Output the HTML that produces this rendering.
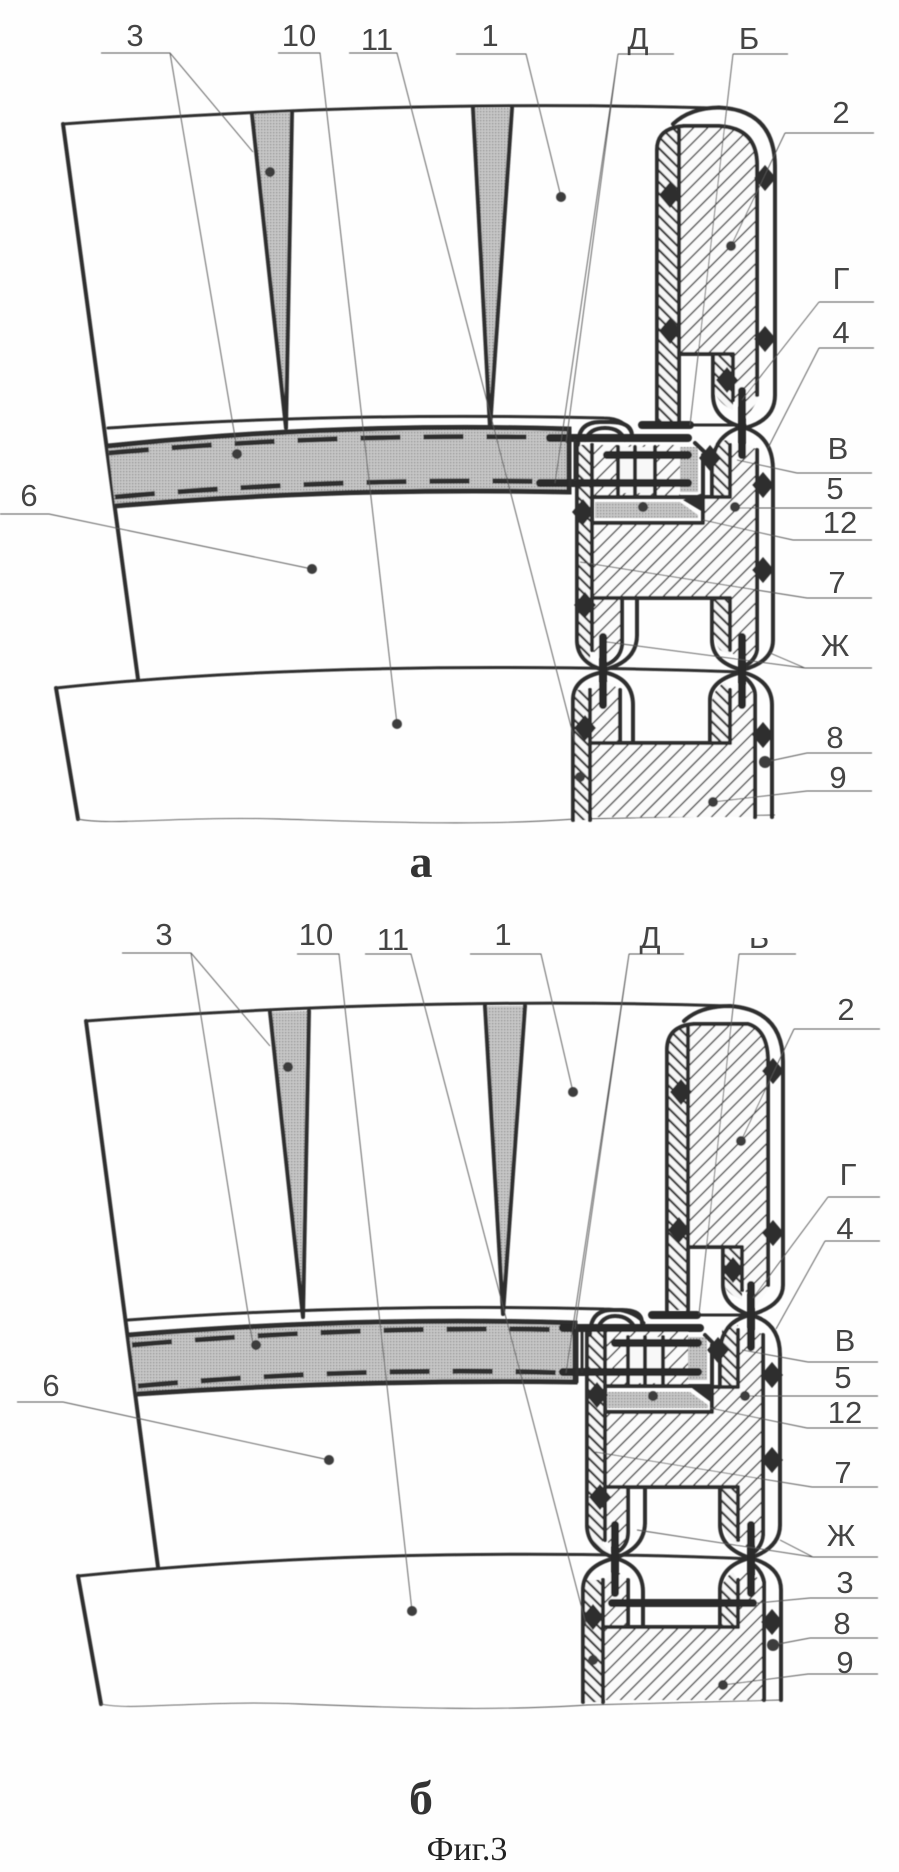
<!DOCTYPE html>
<html><head><meta charset="utf-8"><style>
html,body{margin:0;padding:0;background:#fefefe}
svg{display:block}
text{font-family:"Liberation Sans",sans-serif;font-size:31px;fill:#444;text-anchor:middle}
.ser{font-family:"Liberation Serif",serif}
.l{fill:none;stroke:#555;stroke-width:.9}
.s{fill:none;stroke:#2e2e2e;stroke-width:4;stroke-linecap:round;stroke-linejoin:round}
.t{stroke-width:3}
.b{fill:none;stroke:#2a2a2a;stroke-width:8;stroke-linecap:round}
.d{fill:none;stroke:#2e2e2e;stroke-width:5;stroke-dasharray:40 23}
.dot{fill:#3c3c3c}
</style></head><body>
<svg width="899" height="1872" viewBox="0 0 899 1872" xmlns="http://www.w3.org/2000/svg">
<defs>
<pattern id="h1" width="10" height="10" patternUnits="userSpaceOnUse" patternTransform="rotate(45)"><rect width="10" height="10" fill="#fbfbfb"/><rect width="1.5" height="10" fill="#4a4a4a"/></pattern>
<pattern id="h2" width="8" height="8" patternUnits="userSpaceOnUse" patternTransform="rotate(-45)"><rect width="8" height="8" fill="#f6f6f6"/><rect width="2.2" height="8" fill="#333"/></pattern>
<pattern id="g" width="3" height="3" patternUnits="userSpaceOnUse"><rect width="3" height="3" fill="#c8c8c8"/><rect width="1.3" height="1.3" fill="#858585"/></pattern>
<polygon id="w" points="0,-13 11,0 0,13 -11,0" fill="#2e2e2e"/>
<filter id="bl"><feGaussianBlur stdDeviation=".4"/></filter>
</defs>
<rect width="899" height="1872" fill="#fefefe"/>
<g filter="url(#bl)">

<!-- ============ FIGURE a ============ -->
<path class="s t" d="M63 124Q400 99 713 108"/>
<path class="s" d="M63 124L138 679M56 688L78 819"/>
<path class="s t" d="M56 688Q340 658 742 672"/>
<path class="l" d="M78 819C110 826 180 816 280 819S480 826 575 819L775 815"/>
<path fill="url(#g)" d="M252 114L292 112L286 428Z"/>
<path class="s" d="M252 114L286 428M292 112L286 428"/>
<path fill="url(#g)" d="M473 108H512L490 428Z"/>
<path class="s" d="M473 108L490 428M512 108L490 428"/>
<path class="s t" d="M108 428Q340 412 604 418Q625 418 632 434"/>
<path fill="url(#g)" stroke="#2e2e2e" stroke-width="5" d="M108 446Q340 422 569 429V492Q340 487 115 506"/>
<path class="d" d="M109 453Q340 432 575 438"/>
<path class="d" d="M115 497Q340 477 563 482"/>

<!-- hatched a -->
<path fill="url(#h2)" d="M657 150Q657 128 684 126L679 130V423H657Z"/>
<path fill="url(#h1)" d="M684 126H719Q758 128 758 165V400L745 420L733 397V354H679V130Z"/>
<path fill="url(#h2)" d="M713 354H733V410Q720 405 713 390Z"/>
<path fill="url(#h2)" d="M578 445H590V660L600 668Q577 660 577 640Z"/>
<path fill="url(#h1)" d="M592 445H680V495H592Z"/>
<rect x="620" y="447" width="35" height="46" fill="#f8f8f8"/>
<rect x="680" y="447" width="18" height="45" fill="url(#g)"/>
<path fill="url(#g)" d="M595 502H680L698 515V518H595Z"/>
<path fill="url(#h1)" d="M592 523H703V498H730V445Q745 440 757 450V650L742 665L730 650V598H592Z"/>
<path fill="url(#h2)" d="M714 445Q720 440 730 440V495H714Z"/>
<path fill="url(#h2)" d="M712 600H730V655L720 650Q712 640 712 625Z"/>
<path fill="url(#h1)" d="M592 598H620V650L605 665L592 650Z"/>
<path fill="url(#h2)" d="M574 690H590V820H574Z"/>
<path fill="url(#h1)" d="M590 743H730V690L742 680L755 695V817H590Z"/>
<path fill="url(#h1)" d="M592 690L603 678L620 690V743H592Z"/>
<path fill="url(#h2)" d="M712 743H730V690L725 682Q712 690 712 705Z"/>

<!-- strokes a -->
<path class="s" d="M673 124Q690 108 719 107.5Q775 110 775 167V395Q775 420 745 428Q713 420 713 395V354"/>
<path class="s" d="M684 126H719Q757 128 757 165V395"/>
<path class="s" d="M657 423V150Q657 128 684 126M679 130V423M679 354H733V400"/>
<path class="s" d="M578 445Q578 422 600 422H610Q632 422 632 436M585 440Q590 428 605 428Q620 428 625 440"/>
<path class="s" d="M577 440V640Q577 662 603 670Q637 662 637 635V598"/>
<path class="s" d="M592 445V650M592 598H730V650M622 598V645Q620 660 605 665"/>
<path class="s" d="M712 598V640Q712 662 742 670Q773 662 773 640V470Q773 435 742 427Q712 435 712 470V495"/>
<path class="s" d="M730 445V497H703M757 450V650Q755 662 742 667"/>
<path class="s" d="M592 523H703V455M592 497H703"/>
<path class="s" d="M695 443L713 460"/>
<polygon points="683,500 703,493 703,512" fill="#2e2e2e"/>
<path class="s" d="M573 820V700Q573 678 603 672Q633 678 633 705V743"/>
<path class="s" d="M590 820V690M590 743H730M620 690V743"/>
<path class="s" d="M710 743V700Q710 680 742 672Q772 680 772 705V817M730 743V690M755 817V695Q755 685 742 675"/>
<path class="s" d="M618 447V495M635 447V495M655 447V495"/>
<path class="s t" d="M690 425H745"/>
<path class="b" d="M550 438H688M607 455H688M540 483H688M642 425H690M742 391V455M603 637V705M742 637V705"/>
<path class="s t" d="M570 432V492M575 440V480"/>
<use href="#w" x="765" y="178"/><use href="#w" x="670" y="195"/><use href="#w" x="670" y="331"/><use href="#w" x="765" y="339"/><use href="#w" x="727" y="380"/><use href="#w" x="763" y="485"/><use href="#w" x="763" y="570"/><use href="#w" x="583" y="512"/><use href="#w" x="585" y="605"/><use href="#w" x="585" y="728"/><use href="#w" x="763" y="735"/><use href="#w" x="710" y="458"/>

<!-- leaders a -->
<path class="l" d="M101 53H170L253 152M170 53L236 443M278 53H320L397 724M349 53H397L575 742M456 54H526L561 197M618 54H674M618 54L566 443M618 54L555 483M733 54H788M733 54L690 425M785 133H874M785 133L731 246M819 302H874M819 302L742 400M819 348H874M819 348L768 448M797 473H872M797 473L737 460M872 508H735M793 540H872M793 540L703 520M807 598H872M807 598L580 562M805 668H872M805 668L607 642M805 668L770 653M807 753H872M807 753L765 762M807 791H872M807 791L713 802M0 514H49L312 569"/>
<circle class="dot" cx="270" cy="172" r="5"/><circle class="dot" cx="237" cy="454" r="5"/><circle class="dot" cx="397" cy="724" r="5"/><circle class="dot" cx="561" cy="197" r="5"/><circle class="dot" cx="731" cy="246" r="5"/><circle class="dot" cx="735" cy="507" r="5"/><circle class="dot" cx="765" cy="762" r="6"/><circle class="dot" cx="580" cy="777" r="5"/><circle class="dot" cx="713" cy="802" r="5"/><circle class="dot" cx="312" cy="569" r="5"/><circle class="dot" cx="643" cy="507" r="5"/>

<!-- ============ FIGURE b ============ -->
<path class="s t" d="M86 1021Q420 996 730 1006"/>
<path class="s" d="M86 1021L158 1567M78 1576L101 1704"/>
<path class="s t" d="M78 1576Q390 1544 753 1559"/>
<path class="l" d="M101 1704C130 1711 200 1700 300 1704S500 1711 587 1705L781 1700"/>
<path fill="url(#g)" d="M270 1012L309 1011L303 1317Z"/>
<path class="s" d="M270 1012L303 1317M309 1011L303 1317"/>
<path fill="url(#g)" d="M485 1006H525L503 1314Z"/>
<path class="s" d="M485 1006L503 1314M525 1006L503 1314"/>
<path class="s t" d="M128 1320Q360 1303 604 1309Q632 1309 644 1323"/>
<path fill="url(#g)" stroke="#2e2e2e" stroke-width="5" d="M129 1335Q360 1316 575 1323V1382Q360 1379 137 1394"/>
<path class="d" d="M132 1345Q360 1325 575 1330"/>
<path class="d" d="M138 1386Q360 1366 569 1373"/>

<!-- hatched b -->
<path fill="url(#h2)" d="M667 1050Q667 1026 694 1024L688 1028V1310H667Z"/>
<path fill="url(#h1)" d="M694 1024H748Q768 1030 768 1062V1290L755 1308L742 1285V1247H688V1028Z"/>
<path fill="url(#h2)" d="M723 1247H742V1300Q730 1296 723 1285Z"/>
<path fill="url(#h2)" d="M588 1330H603V1545L612 1555Q587 1548 587 1525Z"/>
<path fill="url(#h1)" d="M605 1330H688V1385H605Z"/>
<rect x="630" y="1337" width="35" height="46" fill="#f8f8f8"/>
<rect x="688" y="1337" width="19" height="43" fill="url(#g)"/>
<path fill="url(#g)" d="M607 1392H690L708 1405V1408H607Z"/>
<path fill="url(#h1)" d="M605 1412H712V1388H738V1330Q750 1325 763 1335V1535L750 1552L738 1535V1487H605Z"/>
<path fill="url(#h2)" d="M722 1330Q728 1325 738 1325V1385H722Z"/>
<path fill="url(#h2)" d="M721 1489H738V1545L730 1540Q721 1530 721 1515Z"/>
<path fill="url(#h1)" d="M605 1487H628V1538L615 1552L605 1538Z"/>
<path fill="url(#h2)" d="M584 1580H603V1702H584Z"/>
<path fill="url(#h1)" d="M603 1627H738V1580L750 1570L764 1585V1700H603Z"/>
<path fill="url(#h1)" d="M603 1582L615 1568L628 1582V1627H603Z"/>
<path fill="url(#h2)" d="M721 1627H738V1580L733 1572Q721 1580 721 1595Z"/>

<!-- strokes b -->
<path class="s" d="M684 1021Q700 1006 730 1006Q783 1010 783 1062V1285Q783 1306 750 1315Q723 1306 723 1285V1247"/>
<path class="s" d="M694 1024H748Q768 1030 768 1062V1285"/>
<path class="s" d="M667 1310V1050Q667 1026 694 1024M688 1028V1310M688 1247H742V1290"/>
<path class="s" d="M590 1335Q590 1310 612 1310H622Q642 1310 642 1323M597 1330Q602 1316 615 1316Q630 1316 636 1330"/>
<path class="s" d="M587 1330V1525Q587 1548 615 1558Q645 1548 645 1522V1488"/>
<path class="s" d="M605 1330V1540M605 1487H738V1540M628 1488V1532Q628 1546 617 1552"/>
<path class="s" d="M720 1488V1525Q720 1548 750 1558Q780 1548 780 1525V1355Q780 1322 750 1315Q720 1322 720 1355V1387"/>
<path class="s" d="M738 1330V1387H712M763 1335V1535Q762 1548 750 1555"/>
<path class="s" d="M605 1412H712V1345M605 1386H712"/>
<path class="s" d="M705 1335L722 1352"/>
<polygon points="692,1388 712,1387 712,1403" fill="#2e2e2e"/>
<path class="s" d="M583 1702V1590Q583 1566 615 1558Q643 1566 643 1592V1627"/>
<path class="s" d="M603 1702V1580M603 1627H738M628 1580V1627"/>
<path class="s" d="M720 1627V1590Q720 1566 750 1558Q781 1566 781 1590V1700M738 1627V1580M764 1700V1582Q762 1570 750 1562"/>
<path class="s" d="M628 1337V1385M645 1337V1385M663 1337V1385"/>
<path class="s t" d="M697 1315H750"/>
<path class="b" d="M563 1328H700M615 1343H698M563 1372H698M652 1315H697M751 1285V1347M615 1525V1593M751 1525V1593M612 1603H753"/>
<path class="s t" d="M577 1326V1382M582 1332V1372"/>
<use href="#w" x="773" y="1071"/><use href="#w" x="681" y="1092"/><use href="#w" x="679" y="1230"/><use href="#w" x="773" y="1233"/><use href="#w" x="733" y="1270"/><use href="#w" x="772" y="1375"/><use href="#w" x="772" y="1460"/><use href="#w" x="597" y="1395"/><use href="#w" x="600" y="1497"/><use href="#w" x="593" y="1617"/><use href="#w" x="772" y="1622"/><use href="#w" x="718" y="1350"/>

<!-- leaders b -->
<path class="l" d="M122 953H191L270 1046M191 953L253 1345M297 954H339L412 1611M365 954H411L587 1628M470 954H541L573 1092M629 954H684M629 954L575 1329M629 954L566 1373M739 954H796M739 954L699 1314M794 1029H880M794 1029L741 1141M828 1197H880M828 1197L753 1298M825 1241H880M825 1241L776 1329M808 1362H878M808 1362L742 1350M878 1396H745M807 1428H878M807 1428L710 1408M812 1487H878M812 1487L595 1452M813 1557H878M813 1557L637 1530M813 1557L780 1540M810 1598H878M810 1598L757 1603M810 1638H878M810 1638L773 1645M808 1674H878M808 1674L723 1685M17 1402H63L329 1460"/>
<circle class="dot" cx="288" cy="1067" r="5"/><circle class="dot" cx="256" cy="1345" r="5"/><circle class="dot" cx="412" cy="1611" r="5"/><circle class="dot" cx="573" cy="1092" r="5"/><circle class="dot" cx="741" cy="1141" r="5"/><circle class="dot" cx="745" cy="1396" r="5"/><circle class="dot" cx="773" cy="1645" r="6"/><circle class="dot" cx="593" cy="1660" r="5"/><circle class="dot" cx="723" cy="1685" r="5"/><circle class="dot" cx="329" cy="1460" r="5"/><circle class="dot" cx="653" cy="1396" r="5"/>
</g>

<!-- labels a -->
<text x="135" y="46">3</text><text x="299" y="46">10</text><text x="377" y="50">11</text><text x="490" y="46">1</text><text x="638" y="49">Д</text><text x="749" y="49">Б</text><text x="841" y="123">2</text><text x="841" y="289">Г</text><text x="841" y="343">4</text><text x="838" y="459">В</text><text x="835" y="499">5</text><text x="840" y="533">12</text><text x="837" y="593">7</text><text x="835" y="656">Ж</text><text x="835" y="748">8</text><text x="838" y="788">9</text><text x="29" y="506">6</text>
<text class="ser" x="421" y="877" style="font-size:46px;font-weight:bold;fill:#333">а</text>

<!-- labels b -->
<text x="164" y="945">3</text><text x="316" y="945">10</text><text x="393" y="950">11</text><text x="503" y="945">1</text><text x="650" y="948">Д</text>
<text x="759" y="948">Б</text><rect x="740" y="915" width="40" height="23" fill="#fefefe"/>
<text x="846" y="1020">2</text><text x="848" y="1185">Г</text><text x="845" y="1239">4</text><text x="845" y="1351">В</text><text x="843" y="1388">5</text><text x="845" y="1423">12</text><text x="843" y="1483">7</text><text x="841" y="1546">Ж</text><text x="845" y="1593">3</text><text x="842" y="1634">8</text><text x="845" y="1673">9</text><text x="51" y="1396">6</text>
<text class="ser" x="421" y="1814" style="font-size:48px;font-weight:bold;fill:#333">б</text>
<text class="ser" x="467" y="1860" style="font-size:34px;fill:#222">Фиг.3</text>
</svg>
</body></html>
